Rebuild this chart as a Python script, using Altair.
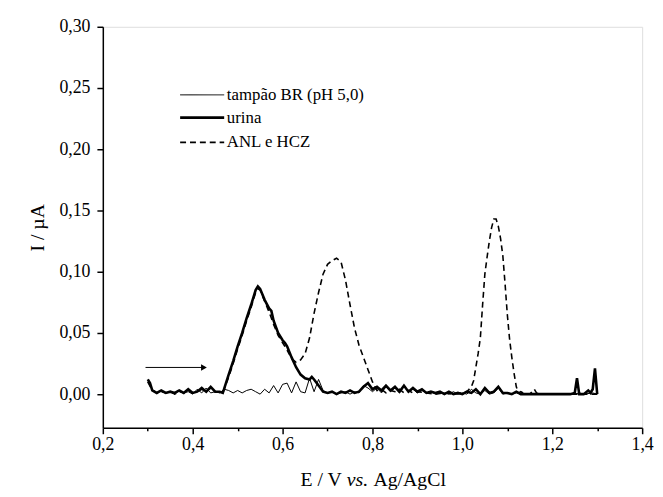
import altair as alt
import pandas as pd

# ---------------- data ----------------
x_tampao = [0.30, 0.31, 0.32, 0.33, 0.34, 0.35, 0.36, 0.37, 0.38, 0.39,
            0.40, 0.41, 0.42, 0.43, 0.44, 0.45, 0.46, 0.47, 0.48, 0.49,
            0.50, 0.51, 0.52, 0.53, 0.54, 0.55, 0.56, 0.57, 0.58, 0.59,
            0.60, 0.61, 0.62, 0.63, 0.64, 0.65, 0.66, 0.67, 0.68, 0.69,
            0.70, 0.71, 0.72, 0.73, 0.74, 0.75, 0.76, 0.77, 0.78, 0.79,
            0.80, 0.81, 0.82, 0.83, 0.84, 0.85, 0.86, 0.87, 0.88, 0.89,
            0.90, 0.91, 0.92, 0.93, 0.94, 0.95, 0.96, 0.97, 0.98, 0.99,
            1.00, 1.01, 1.02, 1.03, 1.04, 1.05, 1.06, 1.07, 1.08, 1.09,
            1.10, 1.11, 1.12, 1.13, 1.15, 1.20, 1.25, 1.26, 1.27, 1.29, 1.30]
y_tampao = [0.010, 0.004, 0.001, 0.003, 0.001, 0.002, 0.000, 0.003, 0.001, 0.002,
            0.000, 0.004, 0.001, 0.005, 0.001, 0.002, 0.001, 0.004, 0.003, 0.001,
            0.003, 0.001, 0.003, 0.004, 0.002, 0.000, 0.004, 0.001, 0.007, 0.001,
            0.008, 0.009, 0.001, 0.010, 0.002, 0.001, 0.013, 0.002, 0.012, 0.003,
            0.001, 0.002, 0.000, 0.001, 0.002, 0.000, 0.002, 0.001, 0.007, 0.005,
            0.002, 0.005, 0.001, 0.006, 0.002, 0.005, 0.001, 0.006, 0.002, 0.004,
            0.001, 0.003, 0.001, 0.002, 0.000, 0.001, 0.001, 0.000, 0.002, 0.000,
            0.001, 0.000, 0.004, 0.001, 0.000, 0.003, 0.000, 0.001, 0.005, 0.000,
            0.001, 0.000, 0.001, 0.000, 0.000, 0.000, 0.000, 0.001, 0.000, 0.001, 0.000]

x_urina = [0.300, 0.305, 0.31, 0.32, 0.33, 0.34, 0.35, 0.36, 0.37, 0.38,
           0.39, 0.40, 0.41, 0.42, 0.43, 0.44, 0.45, 0.46, 0.467, 0.48,
           0.49, 0.50, 0.51, 0.52, 0.53, 0.54, 0.545, 0.55, 0.56, 0.57,
           0.575, 0.58, 0.59, 0.60, 0.605, 0.61, 0.62, 0.63, 0.64, 0.65,
           0.66, 0.665, 0.67, 0.68, 0.69, 0.70, 0.71, 0.72, 0.73, 0.74,
           0.75, 0.76, 0.77, 0.78, 0.79, 0.80, 0.81, 0.82, 0.83, 0.84,
           0.85, 0.86, 0.87, 0.88, 0.89, 0.90, 0.91, 0.92, 0.93, 0.94,
           0.95, 0.96, 0.97, 0.98, 0.99, 1.00, 1.01, 1.02, 1.03, 1.04,
           1.05, 1.06, 1.07, 1.08, 1.09, 1.10, 1.11, 1.12, 1.13, 1.24,
           1.25, 1.255, 1.26, 1.27, 1.28, 1.285, 1.29, 1.295, 1.30]
y_urina = [0.012, 0.009, 0.003, 0.001, 0.003, 0.001, 0.002, 0.001, 0.003, 0.001,
           0.004, 0.001, 0.002, 0.005, 0.002, 0.006, 0.002, 0.002, 0.001, 0.016,
           0.027, 0.039, 0.050, 0.062, 0.073, 0.085, 0.088, 0.086, 0.077, 0.070,
           0.068, 0.060, 0.050, 0.044, 0.042, 0.039, 0.030, 0.022, 0.016, 0.013,
           0.012, 0.014, 0.012, 0.007, 0.002, 0.001, 0.002, 0.000, 0.002, 0.001,
           0.003, 0.001, 0.002, 0.006, 0.009, 0.004, 0.006, 0.003, 0.007, 0.003,
           0.006, 0.002, 0.007, 0.002, 0.005, 0.002, 0.004, 0.001, 0.002, 0.001,
           0.002, 0.000, 0.002, 0.000, 0.001, 0.000, 0.002, 0.001, 0.004, 0.000,
           0.005, 0.001, 0.002, 0.006, 0.001, 0.001, 0.000, 0.002, 0.000, 0.000,
           0.001, 0.013, 0.000, 0.000, 0.003, 0.001, 0.004, 0.021, 0.000]

x_anl = [0.30, 0.31, 0.32, 0.33, 0.34, 0.35, 0.36, 0.37, 0.38, 0.39,
         0.40, 0.41, 0.42, 0.43, 0.44, 0.45, 0.46, 0.467, 0.48, 0.49,
         0.50, 0.51, 0.52, 0.53, 0.54, 0.545, 0.55, 0.56, 0.57, 0.58,
         0.59, 0.60, 0.61, 0.62, 0.63, 0.64, 0.65, 0.66, 0.67, 0.68,
         0.69, 0.70, 0.71, 0.72, 0.73, 0.74, 0.75, 0.76, 0.77, 0.78,
         0.79, 0.80, 0.81, 0.82, 0.83, 0.84, 0.85, 0.86, 0.87, 0.88,
         0.89, 0.90, 0.92, 0.94, 0.96, 0.98, 1.00, 1.01, 1.02, 1.025,
         1.03, 1.035, 1.04, 1.045, 1.05, 1.055, 1.06, 1.065, 1.07, 1.075,
         1.08, 1.085, 1.09, 1.095, 1.10, 1.105, 1.11, 1.115, 1.12, 1.125,
         1.13, 1.14, 1.15, 1.16, 1.165, 1.17, 1.20, 1.25, 1.30]
y_anl = [0.010, 0.003, 0.001, 0.002, 0.001, 0.002, 0.000, 0.002, 0.001, 0.003,
         0.001, 0.002, 0.004, 0.002, 0.005, 0.002, 0.002, 0.001, 0.014, 0.025,
         0.037, 0.048, 0.060, 0.071, 0.083, 0.086, 0.085, 0.076, 0.067, 0.057,
         0.048, 0.042, 0.036, 0.029, 0.026, 0.028, 0.033, 0.046, 0.066, 0.083,
         0.098, 0.106, 0.109, 0.111, 0.108, 0.093, 0.073, 0.054, 0.040, 0.030,
         0.020, 0.010, 0.003, 0.004, 0.001, 0.003, 0.002, 0.004, 0.001, 0.003,
         0.001, 0.002, 0.001, 0.000, 0.001, 0.000, 0.001, 0.002, 0.006, 0.011,
         0.022, 0.033, 0.046, 0.073, 0.098, 0.112, 0.125, 0.136, 0.143, 0.143,
         0.137, 0.127, 0.113, 0.090, 0.065, 0.045, 0.030, 0.017, 0.006, 0.001,
         0.002, 0.000, 0.000, 0.004, 0.001, 0.000, 0.000, 0.000, 0.000]

legend_labels = ["tampão BR (pH 5,0)", "urina", "ANL e HCZ"]
legend_y = [0.2444, 0.2258, 0.2056]
legend_x0, legend_x1, legend_xt = 0.372, 0.470, 0.476

arrow_x0, arrow_x1, arrow_y = 0.295, 0.425, 0.0218

x_ticks = [0.2, 0.3, 0.4, 0.5, 0.6, 0.7, 0.8, 0.9, 1.0, 1.1, 1.2, 1.3, 1.4]
y_ticks = [0.0, 0.025, 0.05, 0.075, 0.10, 0.125, 0.15, 0.175, 0.20, 0.225, 0.25, 0.275, 0.30]

FONT = "Liberation Serif, Times New Roman, serif"

# ---------------- chart ----------------
x_scale = alt.Scale(domain=[0.2, 1.4], nice=False, zero=False)
y_scale = alt.Scale(domain=[-0.0275, 0.30], nice=False, zero=False)

x_major = "round(datum.value*10) % 2 == 0"
y_major = "round(datum.value*40) % 2 == 0"

x_axis = alt.Axis(values=x_ticks, title=None, grid=False, labelFlush=False, labelOverlap=False,
                  labelExpr=f"{x_major} ? replace(format(datum.value, '.1f'), '.', ',') : ''",
                  tickSize={"condition": {"test": x_major, "value": 6}, "value": 3},
                  domainColor="black", domainWidth=1.5, tickColor="black", tickWidth=1.5,
                  labelFont=FONT, labelFontSize=18, labelColor="black", labelPadding=2)
y_axis = alt.Axis(values=y_ticks, title="I  / µA", grid=False, labelOverlap=False,
                  labelExpr=f"{y_major} ? replace(format(datum.value, '.2f'), '.', ',') : ''",
                  tickSize={"condition": {"test": y_major, "value": 6}, "value": 3},
                  domainColor="black", domainWidth=1.5, tickColor="black", tickWidth=1.5,
                  labelFont=FONT, labelFontSize=18, labelColor="black", labelPadding=7,
                  titleFont=FONT, titleFontSize=20, titleFontWeight="normal", titleColor="black",
                  titlePadding=12)

def df(xs, ys):
    return pd.DataFrame({"E": xs, "I": ys})

X = alt.X("E:Q", scale=x_scale, axis=x_axis)
Y = alt.Y("I:Q", scale=y_scale, axis=y_axis)

tampao = alt.Chart(df(x_tampao, y_tampao)).mark_line(color="black", strokeWidth=1).encode(x=X, y=Y)
anl = alt.Chart(df(x_anl, y_anl)).mark_line(color="black", strokeWidth=1.6, strokeDash=[6, 4]).encode(x=X, y=Y)
urina = alt.Chart(df(x_urina, y_urina)).mark_line(color="black", strokeWidth=2.6).encode(x=X, y=Y)

leg_df = pd.DataFrame({"x0": [legend_x0] * 3, "x1": [legend_x1] * 3, "xt": [legend_xt] * 3,
                       "y": legend_y, "label": legend_labels})
leg_widths = [1, 2.6, 1.6]
leg_dashes = [[1, 0], [1, 0], [6, 4]]
leg_lines = []
for i in range(3):
    leg_lines.append(
        alt.Chart(leg_df.iloc[[i]]).mark_rule(color="black", strokeWidth=leg_widths[i],
                                              strokeDash=leg_dashes[i]).encode(
            x=alt.X("x0:Q", scale=x_scale), x2="x1:Q", y=alt.Y("y:Q", scale=y_scale))
    )
leg_text = alt.Chart(leg_df).mark_text(align="left", baseline="middle", font=FONT, fontSize=17,
                                       color="black").encode(
    x=alt.X("xt:Q", scale=x_scale), y=alt.Y("y:Q", scale=y_scale), text="label:N")

arrow_df = pd.DataFrame({"x0": [arrow_x0], "x1": [arrow_x1], "y": [arrow_y]})
arrow_line = alt.Chart(arrow_df).mark_rule(color="black", strokeWidth=1).encode(
    x=alt.X("x0:Q", scale=x_scale), x2="x1:Q", y=alt.Y("y:Q", scale=y_scale))
arrow_head = alt.Chart(arrow_df).mark_point(shape="triangle-right", filled=True, color="black",
                                            size=45, opacity=1).encode(
    x=alt.X("x1:Q", scale=x_scale), y=alt.Y("y:Q", scale=y_scale))

title_parts = pd.DataFrame({"t": ["E / V", "vs.", "Ag/AgCl"]})
t1 = alt.Chart(title_parts.iloc[[0]]).mark_text(align="left", baseline="middle", font=FONT,
                                                fontSize=20, color="black").encode(
    x=alt.value(200), y=alt.value(459), text="t:N")
t2 = alt.Chart(title_parts.iloc[[1]]).mark_text(align="left", baseline="middle", font=FONT,
                                                fontSize=20, fontStyle="italic", color="black").encode(
    x=alt.value(247), y=alt.value(459), text="t:N")
t3 = alt.Chart(title_parts.iloc[[2]]).mark_text(align="left", baseline="middle", font=FONT,
                                                fontSize=20, color="black").encode(
    x=alt.value(274), y=alt.value(459), text="t:N")

chart = alt.layer(tampao, anl, urina, *leg_lines, leg_text, arrow_line, arrow_head, t1, t2, t3).properties(
    width=546, height=406,
    autosize=alt.AutoSizeParams(type="none"),
    padding={"left": 96, "top": 16, "right": 13, "bottom": 65},
).configure_view(stroke="black", strokeWidth=1.5).configure(background="white")

chart.save("out.html", embed_options={"renderer": "svg", "actions": False})
